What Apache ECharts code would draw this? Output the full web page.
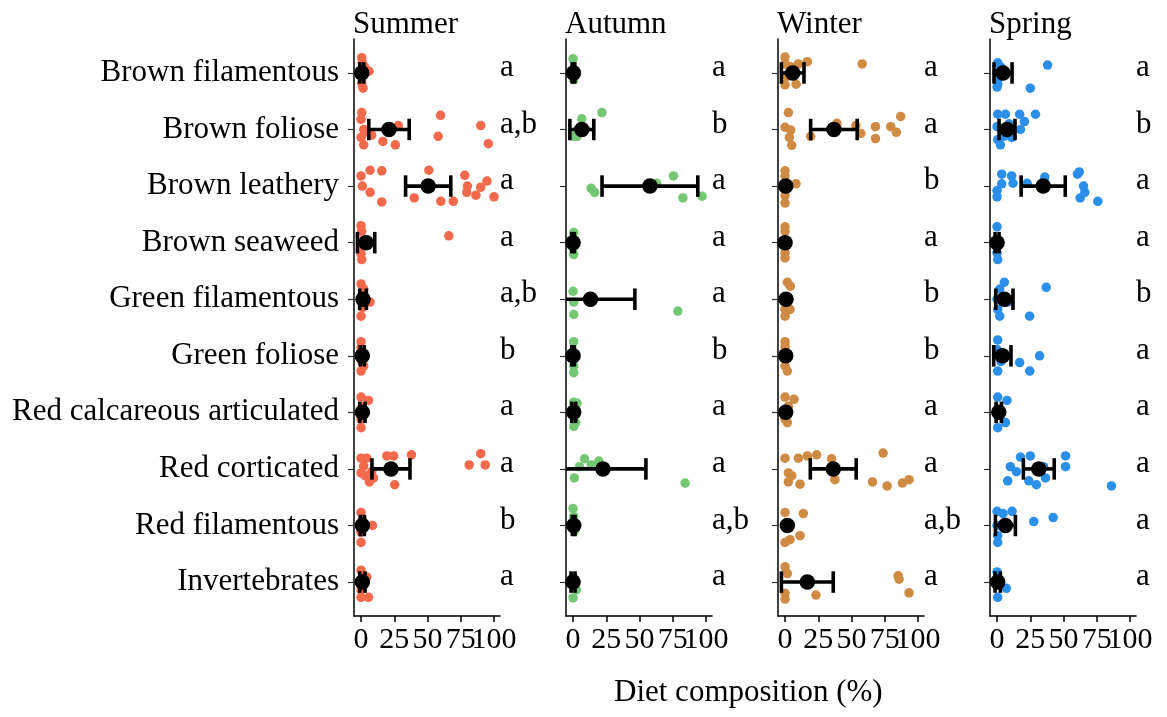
<!DOCTYPE html>
<html>
<head>
<meta charset="utf-8">
<script src="https://cdn.jsdelivr.net/npm/echarts@6/dist/echarts.min.js"></script>
<style>
  html, body { margin: 0; padding: 0; background: #fff; }
  #chart { width: 1167px; height: 717px; }
</style>
</head>
<body>
<div id="chart"></div>
<script>
// Diet item categories (top to bottom)
const categories = [
  'Brown filamentous', 'Brown foliose', 'Brown leathery', 'Brown seaweed',
  'Green filamentous', 'Green foliose', 'Red calcareous articulated',
  'Red corticated', 'Red filamentous', 'Invertebrates'
];
const seasons = ['Summer', 'Autumn', 'Winter', 'Spring'];
const xTickValues = [0, 25, 50, 75, 100];
const axisTitle = 'Diet composition (%)';

// Individual samples: [category index, diet %, vertical jitter]
const summerPoints = [
  [0,0.5,-0.27],[0,2.5,-0.11],[0,6,-0.03],[0,0.5,0.18],[0,1.5,0.27],[0,0,0.05],[0,1,-0.18],
  [1,0.5,-0.30],[1,0,-0.18],[1,2,0],[1,0,0.14],[1,2,0.27],[1,5,0.05],[1,16.4,0.21],[1,25.8,0.27],
  [1,28,-0.07],[1,59.8,-0.25],[1,58,0.12],[1,90,-0.07],[1,95.7,0.25],[1,8,0.1],
  [2,0,-0.18],[2,6.8,-0.28],[2,15.6,-0.27],[2,1,0],[2,6.8,0.11],[2,15.6,0.28],[2,40,0.21],[2,51,-0.28],
  [2,60,0.27],[2,69.4,0.27],[2,78,-0.19],[2,80,0],[2,79.5,0.11],[2,86.4,0.16],[2,90,0.02],[2,94.7,-0.09],[2,100,0.19],
  [3,0,-0.30],[3,0.5,-0.2],[3,1,0.05],[3,0,0.2],[3,0.5,0.30],[3,66,-0.12],[3,2,-0.05],
  [4,0,-0.27],[4,2,-0.18],[4,6.8,0.05],[4,0,0.30],[4,1,0.15],[4,0.5,-0.05],
  [5,0,-0.25],[5,0,-0.14],[5,0.5,0.1],[5,0,0.27],[5,2,0.18],
  [6,0,-0.27],[6,5.6,-0.21],[6,0,0.12],[6,0,0.27],[6,1,-0.1],
  [7,0,-0.19],[7,4.3,-0.19],[7,0,0.07],[7,3,0.12],[7,6.3,0.23],[7,9.3,0.16],[7,19.4,-0.23],[7,24.5,-0.23],
  [7,37.9,-0.25],[7,25.3,0.28],[7,81.3,-0.07],[7,90,-0.27],[7,93.4,-0.07],[7,8,0.05],[7,2,-0.05],
  [8,0,-0.23],[8,0,0.12],[8,0,0.30],[8,8.6,0],[8,1,-0.1],
  [9,0,-0.21],[9,4.3,-0.09],[9,0,0.27],[9,5.6,0.27],[9,0,0.14],[9,2,-0.02]
];
const autumnPoints = [
  [0,0,-0.25],[0,0.5,0.12],[0,0,0.05],[0,1,-0.05],
  [1,6.6,-0.19],[1,21.7,-0.30],[1,3,0.12],[1,0,0.12],[1,5,0.05],
  [2,13.6,0.04],[2,16.2,0.11],[2,62.9,-0.05],[2,75.5,-0.18],[2,82.6,0.21],[2,97,0.18],
  [3,0.5,-0.18],[3,0.5,0.21],[3,0,0],[3,0,0.1],
  [4,0,-0.14],[4,0.5,0.05],[4,0.5,0.27],[4,78.8,0.21],
  [5,0.5,-0.25],[5,0.5,0.18],[5,0.5,0.30],[5,0,0],
  [6,0.5,-0.18],[6,3,-0.16],[6,0.5,0.25],[6,2,0.18],[6,0,0],
  [7,8.6,-0.18],[7,4.8,-0.04],[7,13.6,-0.07],[7,19.4,-0.14],[7,1,0.16],[7,84.3,0.25],
  [8,0,-0.30],[8,0.5,-0.16],[8,0,0.02],[8,1,0.1],
  [9,0,-0.09],[9,2.5,0.14],[9,0,0.28],[9,1,0.02]
];
const winterPoints = [
  [0,0,-0.28],[0,0,-0.16],[0,4,-0.11],[0,10,-0.16],[0,16.75,-0.2],[0,8.3,0.2],[0,0,0.21],[0,58,-0.16],[0,1.5,0.06],
  [1,2.5,-0.3],[1,0,-0.04],[1,4.25,0.01],[1,3.25,0.14],[1,5,0.28],[1,19.25,0.12],[1,39,-0.11],[1,53.25,-0.07],
  [1,57,0.07],[1,68,-0.05],[1,68,0.16],[1,79.5,-0.05],[1,83.75,0.05],[1,87,-0.23],
  [2,0,-0.27],[2,0,-0.18],[2,8.25,-0.04],[2,0,0.17],[2,0,0.3],[2,1,0.05],
  [3,0,-0.28],[3,0,-0.2],[3,0,0.18],[3,0,0.27],[3,1,0.05],
  [4,1.75,-0.3],[4,4,-0.23],[4,0,0.18],[4,3.75,0.18],[4,0,0.3],[4,0.5,0.05],
  [5,0,-0.25],[5,0,-0.16],[5,1.75,0.27],[5,0,0.18],[5,0.5,0.05],
  [6,0,-0.27],[6,6.75,-0.23],[6,2.5,-0.11],[6,0,0.12],[6,1.75,0.18],[6,0.5,0.02],
  [7,0,-0.19],[7,10,-0.19],[7,16.75,-0.23],[7,23.75,-0.25],[7,35,-0.18],[7,73.75,-0.28],[7,2.5,0.07],[7,5,0.12],
  [7,2.5,0.23],[7,11.25,0.27],[7,37.5,0.19],[7,65.75,0.23],[7,76.75,0.3],[7,88.25,0.25],[7,93.25,0.19],
  [8,0,-0.23],[8,13.75,-0.21],[8,1.75,0],[8,11.25,0.18],[8,3.75,0.25],[8,0,0.3],
  [9,0,-0.27],[9,1.75,-0.15],[9,0,0.2],[9,23.25,0.23],[9,85,-0.11],[9,85.75,-0.05],[9,93.25,0.19],[9,0,0.3]
];
const springPoints = [
  [0,0.5,-0.18],[0,0,0],[0,0,0.25],[0,0.5,0.2],[0,38,-0.14],[0,25,0.27],[0,3,-0.1],[0,1,0.1],
  [1,0.5,-0.27],[1,6.3,-0.27],[1,17,-0.27],[1,20.6,-0.14],[1,28.9,-0.27],[1,17.6,0],[1,11,0.14],[1,2.5,0.27],
  [1,0,-0.05],[1,0.5,0.18],[1,5,0.12],[1,9,-0.1],
  [2,3.5,-0.21],[2,11,-0.18],[2,3.5,-0.04],[2,0,0.08],[2,0,0.19],[2,12,-0.05],[2,22.6,-0.05],[2,35.9,-0.16],
  [2,60.5,-0.21],[2,61.8,-0.25],[2,65,0],[2,66,0.11],[2,62.5,0.21],[2,75.8,0.27],
  [3,0,-0.28],[3,0,0.18],[3,0.5,0.3],[3,0,0],
  [4,5.5,-0.3],[4,2,-0.18],[4,0,0],[4,0.5,0.18],[4,2,0.3],[4,37,-0.21],[4,24.5,0.3],[4,8,0.05],
  [5,0.5,-0.28],[5,0,-0.11],[5,0.5,0.27],[5,17,0.12],[5,24.6,0.27],[5,32,0],[5,3,0.1],
  [6,0.5,-0.27],[6,7.5,-0.21],[6,0.5,0.27],[6,6.3,0.18],[6,0,0],
  [7,17.6,-0.21],[7,25,-0.23],[7,10,-0.04],[7,14.6,0.05],[7,8,0.21],[7,23.9,0.21],[7,29.6,0.28],[7,36.4,0.16],
  [7,35,-0.04],[7,51.5,-0.23],[7,51.5,-0.04],[7,86,0.3],
  [8,0,-0.25],[8,4.5,-0.21],[8,11.3,-0.25],[8,0,0],[8,0.5,0.3],[8,27.6,-0.07],[8,42.2,-0.14],[8,0.5,0.18],
  [9,0,-0.18],[9,0.5,-0.09],[9,7,0.11],[9,0.5,0.27],[9,1,0]
];

// Mean diet % per category and half-width of its error bar (null = no bar)
const summerMean = [0.5, 21, 50.5, 3.8, 1.5, 0.9, 1, 22.5, 1, 1];
const summerErr  = [1.5, 15.2, 17, 6.5, 2.5, 1.5, 2, 14.3, 1.5, 2];
const autumnMean = [0.3, 6.6, 57.8, 0, 13.1, 0, 0.5, 22.5, 0.5, 0];
const autumnErr  = [1, 9, 36, 1, 33.4, 1, 1.5, 32.3, 1, 1.5];
const winterMean = [5.75, 36.75, 0.5, 0, 0.75, 0.5, 0.5, 36.25, 1.75, 16.75];
const winterErr  = [8.5, 17.5, null, null, null, null, null, 17.25, null, 19.5];
const springMean = [4.5, 7.5, 34.7, 0, 5.5, 4, 1.3, 31.4, 6.3, 0.5];
const springErr  = [6.8, 6, 16.6, 1.5, 6.5, 6.5, 2, 11.6, 7.5, 2];

// Significance letters per category
const summerLetters = ['a', 'a,b', 'a', 'a', 'a,b', 'b', 'a', 'a', 'b', 'a'];
const autumnLetters = ['a', 'b', 'a', 'a', 'a', 'b', 'a', 'a', 'a,b', 'a'];
const winterLetters = ['a', 'a', 'b', 'a', 'b', 'b', 'a', 'a', 'a,b', 'a'];
const springLetters = ['a', 'b', 'a', 'a', 'b', 'a', 'a', 'a', 'a', 'a'];

const panels = [
  { points: summerPoints, mean: summerMean, err: summerErr, letters: summerLetters, color: '#F3694C' },
  { points: autumnPoints, mean: autumnMean, err: autumnErr, letters: autumnLetters, color: '#74C774' },
  { points: winterPoints, mean: winterMean, err: winterErr, letters: winterLetters, color: '#CF8A43' },
  { points: springPoints, mean: springMean, err: springErr, letters: springLetters, color: '#2B8FEA' }
];

const FONT = '"Liberation Serif", "Times New Roman", serif';
const FS = 31;
const TICK_FS = 30;
const panelLeft = [354, 566, 778, 990];
const panelWidth = 146;
const panelTop = 39;
const panelHeight = 577;
const X_MIN = -5.3, X_MAX = 104.5;
const rowIndex = categories.map((_, i) => i);
// tick labels sit very close together, so alternate ones go on a second, label-only axis
const labelsA = xTickValues.filter((_, i) => i % 2 === 0);
const labelsB = xTickValues.filter((_, i) => i % 2 === 1);

const grid = [], xAxis = [], yAxis = [], series = [], title = [];

const tickLabelStyle = {
  showMinLabel: true, showMaxLabel: true, hideOverlap: false,
  fontFamily: FONT, fontSize: TICK_FS, color: '#000', margin: 9
};

panels.forEach((p, g) => {
  grid.push({ left: panelLeft[g], top: panelTop, width: panelWidth, height: panelHeight });
  title.push({
    text: seasons[g], left: panelLeft[g] - 1, top: 9, padding: 0,
    textStyle: { fontFamily: FONT, fontSize: FS, fontWeight: 'normal', color: '#000' }
  });
  // main x axis (line, ticks and every other label)
  xAxis.push({
    gridIndex: g, type: 'value', min: X_MIN, max: X_MAX, position: 'bottom',
    axisLine: { show: true, onZero: false, lineStyle: { color: '#000', width: 1.5 } },
    axisTick: { show: true, customValues: xTickValues, length: 6, lineStyle: { color: '#000', width: 1.5 } },
    axisLabel: Object.assign({ customValues: labelsA }, tickLabelStyle),
    splitLine: { show: false }
  });
  // companion axis carrying the remaining labels
  xAxis.push({
    gridIndex: g, type: 'value', min: X_MIN, max: X_MAX, position: 'bottom', offset: 0,
    axisLine: { show: false, onZero: false },
    axisTick: { show: false },
    axisLabel: Object.assign({ customValues: labelsB }, tickLabelStyle),
    splitLine: { show: false }
  });
  yAxis.push({
    gridIndex: g, type: 'value', inverse: true, min: -0.6, max: 9.6,
    axisLine: { show: true, onZero: false, lineStyle: { color: '#000', width: 1.5 } },
    axisTick: { show: true, customValues: rowIndex, length: 6, lineStyle: { color: '#333', width: 1.2 } },
    axisLabel: g === 0
      ? { customValues: rowIndex, formatter: v => categories[Math.round(v)], fontFamily: FONT, fontSize: FS, color: '#000', margin: 15 }
      : { show: false },
    splitLine: { show: false }
  });

  const xi = 2 * g;

  // jittered samples
  series.push({
    type: 'scatter', xAxisIndex: xi, yAxisIndex: g, symbolSize: 9.5, z: 2,
    itemStyle: { color: p.color, opacity: 1 },
    data: p.points.map(d => [d[1], d[0] + d[2]]),
    silent: true
  });

  // error bars with end caps
  const barData = [];
  p.mean.forEach((m, i) => {
    if (p.err[i] !== null) barData.push([m - p.err[i], m + p.err[i], i]);
  });
  series.push({
    type: 'custom', xAxisIndex: xi, yAxisIndex: g, z: 3, clip: true, silent: true,
    data: barData,
    encode: { x: [0, 1], y: 2 },
    renderItem: (params, api) => {
      const lo = api.value(0), hi = api.value(1), row = api.value(2);
      const a = api.coord([lo, row]);
      const b = api.coord([hi, row]);
      const capTop = api.coord([lo, row - 0.19])[1];
      const capBot = api.coord([lo, row + 0.19])[1];
      const style = { stroke: '#000', lineWidth: 3.6 };
      return {
        type: 'group',
        children: [
          { type: 'line', shape: { x1: a[0], y1: a[1], x2: b[0], y2: b[1] }, style },
          { type: 'line', shape: { x1: a[0], y1: capTop, x2: a[0], y2: capBot }, style },
          { type: 'line', shape: { x1: b[0], y1: capTop, x2: b[0], y2: capBot }, style }
        ]
      };
    }
  });

  // means
  series.push({
    type: 'scatter', xAxisIndex: xi, yAxisIndex: g, symbolSize: 15.5, z: 4, silent: true,
    itemStyle: { color: '#000', opacity: 1 },
    data: p.mean.map((m, i) => [m, i])
  });

  // significance letters
  series.push({
    type: 'scatter', xAxisIndex: xi, yAxisIndex: g, symbolSize: 0, z: 5, silent: true, clip: false,
    itemStyle: { color: '#000', opacity: 1 },
    data: p.letters.map((t, i) => [X_MAX, i]),
    label: {
      show: true, position: 'right', distance: 0, align: 'left', verticalAlign: 'middle', offset: [0, -5],
      fontFamily: FONT, fontSize: FS, color: '#000', opacity: 1, textBorderWidth: 0,
      formatter: params => p.letters[Math.round(params.value[1])]
    }
  });
});

title.push({
  text: axisTitle, left: 614, top: 677, padding: 0,
  textStyle: { fontFamily: FONT, fontSize: FS, fontWeight: 'normal', color: '#000' }
});

const chart = echarts.init(document.getElementById('chart'), null, { renderer: 'canvas' });
chart.setOption({
  animation: false,
  backgroundColor: '#fff',
  title, grid, xAxis, yAxis, series
});
</script>
</body>
</html>
